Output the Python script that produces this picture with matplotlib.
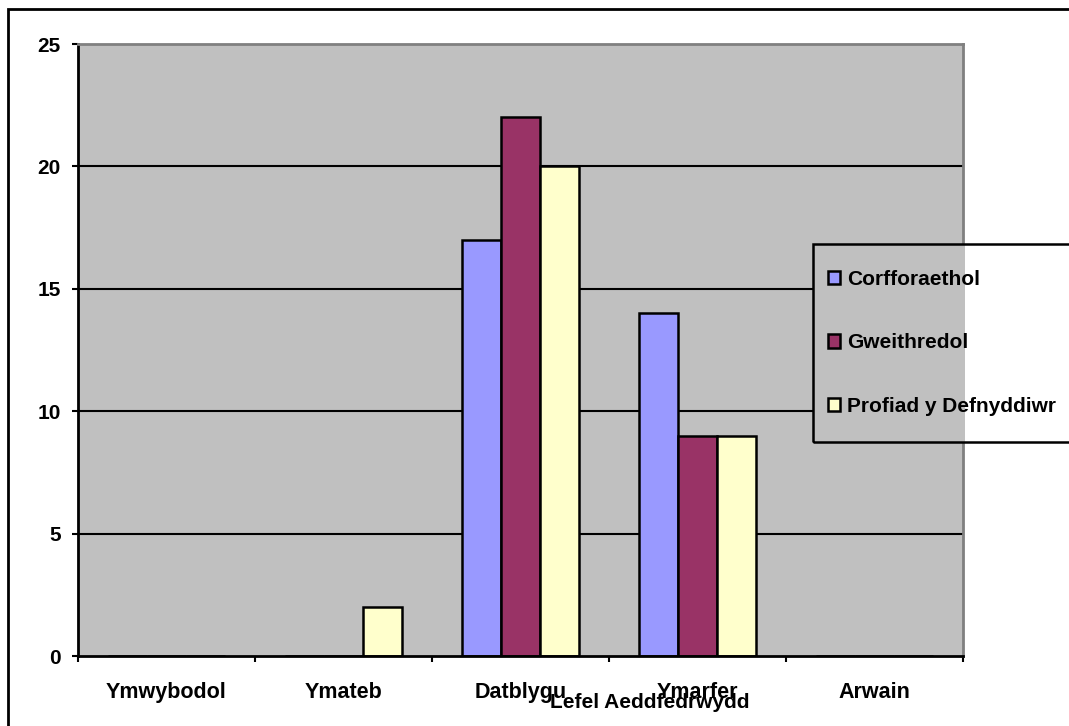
import numpy as np
import matplotlib.pyplot as plt
from matplotlib.patches import Rectangle

plt.rcParams['font.family'] = ['Liberation Sans', 'DejaVu Sans']
plt.rcParams['font.weight'] = 'bold'

# Datos
categorias = ['Ymwybodol', 'Ymateb', 'Datblygu', 'Ymarfer', 'Arwain']
corfforaethol = [0, 0, 17, 14, 0]
gweithredol = [0, 0, 22, 9, 0]
profiad = [0, 2, 20, 9, 0]
series = ['Corfforaethol', 'Gweithredol', 'Profiad y Defnyddiwr']
colores = ['#9999FF', '#993366', '#FFFFCC']
yticks = [0, 5, 10, 15, 20, 25]

W, H = 1069, 726
fig = plt.figure(figsize=(W / 100, H / 100), dpi=100)
ax = fig.add_axes([78 / W, 1 - 656 / H, (963 - 78) / W, (656 - 44) / H])
ax.set_facecolor('#C0C0C0')

x = np.arange(len(categorias))
ancho = 0.22
for i, (vals, nombre, col) in enumerate(zip([corfforaethol, gweithredol, profiad], series, colores)):
    ax.bar(x + (i - 1) * ancho, vals, ancho, color=col, edgecolor='black',
           linewidth=1.8, label=nombre, zorder=3)

ax.set_xlim(-0.5, len(categorias) - 0.5)
ax.set_ylim(0, 25)
ax.set_yticks(yticks)
ax.set_yticklabels([str(v) for v in yticks], fontsize=15, fontweight='bold')
ax.set_xticks(x)
ax.set_xticklabels(categorias, fontsize=15.5, fontweight='bold')
ax.set_xticks(np.arange(len(categorias) + 1) - 0.5, minor=True)
ax.tick_params(axis='x', which='major', length=0, pad=18.5)
ax.tick_params(axis='x', which='minor', length=4.3, width=1.5, direction='out')
ax.tick_params(axis='y', length=4.3, width=1.5, direction='out', pad=8)

# Líneas de la cuadrícula
for v in yticks[1:-1]:
    ax.axhline(v, color='black', linewidth=1.5, zorder=1)

for lado in ['top', 'right']:
    ax.spines[lado].set_color('#808080')
    ax.spines[lado].set_linewidth(2)
for lado in ['left', 'bottom']:
    ax.spines[lado].set_color('black')
    ax.spines[lado].set_linewidth(2)
ax.spines['bottom'].set_zorder(4)

fig.text(650 / W, 1 - 702 / H, 'Lefel Aeddfedrwydd', ha='center', va='center',
         fontsize=15, fontweight='bold')

# Caja de la leyenda (en píxeles de la figura)
lx0, ly0, ly1 = 813, 244, 442

# Fondo gris bajo la leyenda (tapa la cuadrícula y el borde derecho)
x0 = (lx0 - 78) / (963 - 78)
x1 = (965 - 78) / (963 - 78)
y0 = (656 - ly1) / (656 - 44)
y1 = (656 - ly0) / (656 - 44)
ax.add_patch(Rectangle((x0, y0), x1 - x0, y1 - y0, transform=ax.transAxes,
                       facecolor='#C0C0C0', edgecolor='none', zorder=2.8, clip_on=False))

leg = fig.legend(loc='upper left', bbox_to_anchor=(lx0 / W, 1 - (ly0 + 11) / H),
                 prop={'weight': 'bold', 'size': 15}, frameon=False,
                 handlelength=0.6, handleheight=0.6, handletextpad=0.33,
                 labelspacing=2.15, borderpad=0.7, borderaxespad=0)
leg.set_zorder(5)
fig.add_artist(Rectangle((lx0 / W, 1 - ly1 / H), 0.5, (ly1 - ly0) / H,
                         transform=fig.transFigure, facecolor='none',
                         edgecolor='black', linewidth=1.8, zorder=5))

# Marco exterior
fig.add_artist(Rectangle((8 / W, -0.1), 1.2, 1 - 9 / H + 0.1, transform=fig.transFigure,
                         facecolor='none', edgecolor='black', linewidth=2, zorder=6))

fig.savefig('out.png', dpi=100)
